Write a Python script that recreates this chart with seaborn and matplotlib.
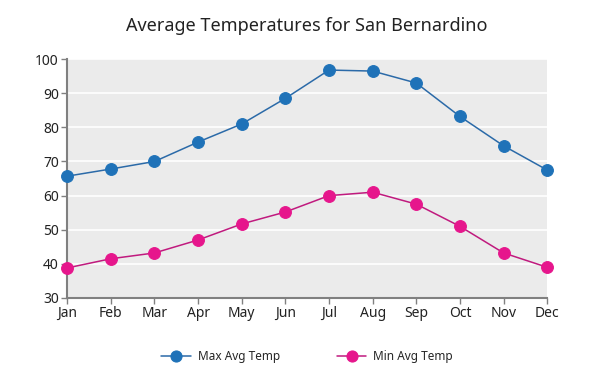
import matplotlib
matplotlib.use("Agg")
import matplotlib.pyplot as plt
import seaborn as sns
import pandas as pd

months = ["Jan", "Feb", "Mar", "Apr", "May", "Jun", "Jul", "Aug", "Sep", "Oct", "Nov", "Dec"]
max_temp = [65.7, 67.8, 70.0, 75.7, 81.0, 88.5, 96.8, 96.5, 93.0, 83.2, 74.6, 67.5]
min_temp = [38.8, 41.5, 43.2, 47.0, 51.7, 55.2, 60.0, 61.0, 57.5, 51.0, 43.2, 39.0]
series = ["Max Avg Temp", "Min Avg Temp"]
yticks = [30, 40, 50, 60, 70, 80, 90, 100]

df = pd.DataFrame({
    "month": list(range(12)) * 2,
    "temp": max_temp + min_temp,
    "series": [series[0]] * 12 + [series[1]] * 12,
})

sns.set_style("white")
plt.rcParams["font.family"] = ["Noto Sans", "DejaVu Sans"]

fig = plt.figure(figsize=(6, 3.84), dpi=100)
ax = fig.add_axes([0.112, 0.224, 0.8, 0.622])
ax.set_facecolor("#ebebeb")

line_colors = {series[0]: "#2b6aa8", series[1]: "#c01a7e"}
marker_colors = {series[0]: "#1f72b8", series[1]: "#e6168c"}

for s in series:
    sub = df[df["series"] == s]
    sns.lineplot(data=sub, x="month", y="temp", ax=ax, color=line_colors[s],
                 linewidth=1.1, marker="o", markersize=8.5,
                 markerfacecolor=marker_colors[s], markeredgecolor=marker_colors[s],
                 label=s, clip_on=False, zorder=3)

ax.set_xlim(0, 11)
ax.set_ylim(30, 100)
ax.set_yticks(yticks)
ax.set_xticks(range(12))
ax.set_xticklabels(months)
ax.yaxis.grid(True, color="white", linewidth=1.2)
ax.set_axisbelow(True)
for sp in ["top", "right"]:
    ax.spines[sp].set_visible(False)
for sp in ["left", "bottom"]:
    ax.spines[sp].set_color("#808080")
    ax.spines[sp].set_linewidth(1.5)
ax.tick_params(axis="both", which="both", direction="out", length=4, width=1,
               color="#808080", labelsize=10, labelcolor="#222222", pad=2,
               left=True, bottom=True)
ax.set_xlabel("")
ax.set_ylabel("")
ax.set_title("Average Temperatures for San Bernardino", fontsize=13, color="#222222", pad=20)

leg = ax.legend(loc="upper center", bbox_to_anchor=(0.5, -0.175), ncol=2, frameon=False,
                fontsize=8.5, columnspacing=4.8, handlelength=2.5, handletextpad=0.6)
for h in leg.legend_handles:
    h.set_markersize(8)

fig.savefig("out.png", dpi=100)
